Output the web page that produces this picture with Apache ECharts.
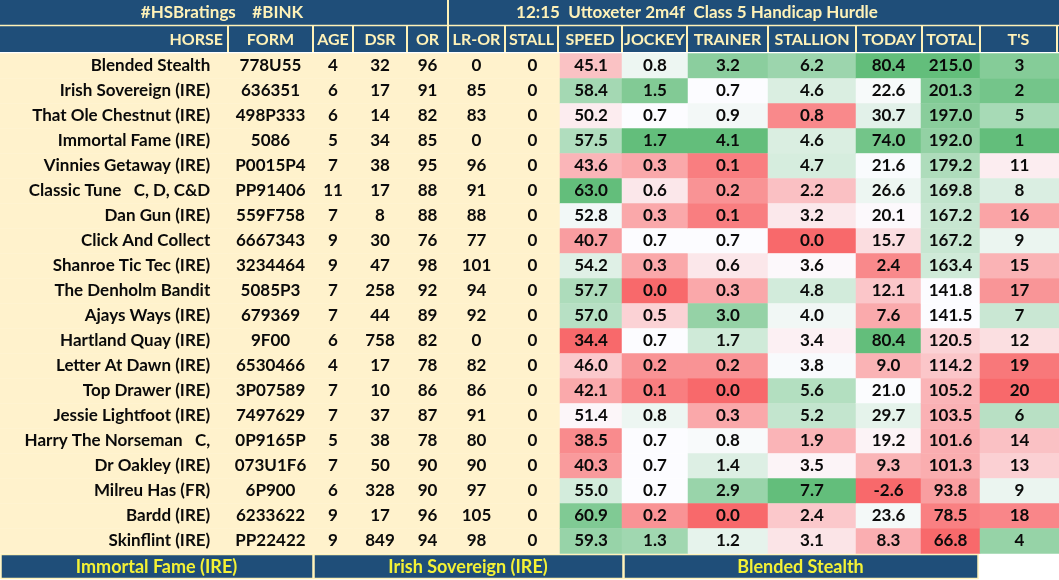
<!DOCTYPE html>
<html>
<head>
<meta charset="utf-8">
<title>HSB ratings - 12:15 Uttoxeter</title>
<script src="https://cdn.jsdelivr.net/npm/echarts@6/dist/echarts.min.js"></script>
<style>
  html, body { margin: 0; padding: 0; background: #fff; }
  #main { width: 1059px; height: 580px; }
</style>
</head>
<body>
<div id="main"></div>
<script>
// ---- data ----
var titleLeft = '#HSBratings    #BINK';
var titleRight = '12:15  Uttoxeter 2m4f  Class 5 Handicap Hurdle';
var columns = ['HORSE', 'FORM', 'AGE', 'DSR', 'OR', 'LR-OR', 'STALL', 'SPEED', 'JOCKEY', 'TRAINER', 'STALLION', 'TODAY', 'TOTAL', "T'S"];
var picks = ['Immortal Fame (IRE)', 'Irish Sovereign (IRE)', 'Blended Stealth'];

var horses = ['Blended Stealth', 'Irish Sovereign (IRE)', 'That Ole Chestnut (IRE)', 'Immortal Fame (IRE)',
  'Vinnies Getaway (IRE)', 'Classic Tune   C, D, C&D', 'Dan Gun (IRE)', 'Click And Collect',
  'Shanroe Tic Tec (IRE)', 'The Denholm Bandit', 'Ajays Ways (IRE)', 'Hartland Quay (IRE)',
  'Letter At Dawn (IRE)', 'Top Drawer (IRE)', 'Jessie Lightfoot (IRE)', 'Harry The Norseman   C,',
  'Dr Oakley (IRE)', 'Milreu Has (FR)', 'Bardd (IRE)', 'Skinflint (IRE)'];
var form = ['778U55', '636351', '498P333', '5086', 'P0015P4', 'PP91406', '559F758', '6667343', '3234464', '5085P3',
  '679369', '9F00', '6530466', '3P07589', '7497629', '0P9165P', '073U1F6', '6P900', '6233622', 'PP22422'];
var age = [4, 6, 6, 5, 7, 11, 7, 9, 9, 7, 7, 6, 4, 7, 7, 5, 7, 6, 9, 9];
var dsr = [32, 17, 14, 34, 38, 17, 8, 30, 47, 258, 44, 758, 17, 10, 37, 38, 50, 328, 17, 849];
var orating = [96, 91, 82, 85, 95, 88, 88, 76, 98, 92, 89, 82, 78, 86, 87, 78, 90, 90, 96, 94];
var lrOr = [0, 85, 83, 0, 96, 91, 88, 77, 101, 94, 92, 0, 82, 86, 91, 80, 90, 97, 105, 98];
var stall = [0, 0, 0, 0, 0, 0, 0, 0, 0, 0, 0, 0, 0, 0, 0, 0, 0, 0, 0, 0];
var speed = [45.1, 58.4, 50.2, 57.5, 43.6, 63.0, 52.8, 40.7, 54.2, 57.7, 57.0, 34.4, 46.0, 42.1, 51.4, 38.5, 40.3, 55.0, 60.9, 59.3];
var jockey = [0.8, 1.5, 0.7, 1.7, 0.3, 0.6, 0.3, 0.7, 0.3, 0.0, 0.5, 0.7, 0.2, 0.1, 0.8, 0.7, 0.7, 0.7, 0.2, 1.3];
var trainer = [3.2, 0.7, 0.9, 4.1, 0.1, 0.2, 0.1, 0.7, 0.6, 0.3, 3.0, 1.7, 0.2, 0.0, 0.3, 0.8, 1.4, 2.9, 0.0, 1.2];
var stallion = [6.2, 4.6, 0.8, 4.6, 4.7, 2.2, 3.2, 0.0, 3.6, 4.8, 4.0, 3.4, 3.8, 5.6, 5.2, 1.9, 3.5, 7.7, 2.4, 3.1];
var today = [80.4, 22.6, 30.7, 74.0, 21.6, 26.6, 20.1, 15.7, 2.4, 12.1, 7.6, 80.4, 9.0, 21.0, 29.7, 19.2, 9.3, -2.6, 23.6, 8.3];
var total = [215.0, 201.3, 197.0, 192.0, 179.2, 169.8, 167.2, 167.2, 163.4, 141.8, 141.5, 120.5, 114.2, 105.2, 103.5, 101.6, 101.3, 93.8, 78.5, 66.8];
var ts = [3, 2, 5, 1, 11, 8, 16, 9, 15, 17, 7, 12, 19, 20, 6, 14, 13, 9, 18, 4];

// ---- layout / style ----
var W = 1059;
var edges = [0, 228, 313, 353, 407, 448, 505, 560, 622, 688, 768, 856, 921, 980, 1059];
var bodyTop = 53.5, rowH = 25;
var NAVY = '#1F4E79', CREAM = '#FFF2CC', PALE = '#FFF2B8', YELLOW = '#F4F236';
var RED = [248, 105, 107], MID = [252, 252, 255], GREEN = [99, 190, 123];
var FONT = 'Lato, "Open Sans", sans-serif';

// excel style 3-colour scale: min / 50th percentile / max
function scaleColor(arr, reverse) {
  var s = arr.slice().sort(function (a, b) { return a - b; });
  var n = s.length, p = (n - 1) * 0.5, lo = Math.floor(p);
  var mid = s[lo] + (s[Math.min(lo + 1, n - 1)] - s[lo]) * (p - lo);
  var mn = s[0], mx = s[n - 1];
  var cLow = reverse ? GREEN : RED, cHigh = reverse ? RED : GREEN;
  return function (v) {
    var a, b, t;
    if (v <= mid) { a = cLow; b = MID; t = mid === mn ? 1 : (v - mn) / (mid - mn); }
    else { a = MID; b = cHigh; t = mx === mid ? 0 : (v - mid) / (mx - mid); }
    var c = a.map(function (x, k) { return Math.round(x + (b[k] - x) * t); });
    return 'rgb(' + c.join(',') + ')';
  };
}

function fix1(v) { return v.toFixed(1); }
function plain(v) { return String(v); }

var colSpec = [
  { vals: horses, fmt: plain, align: 'right' },
  { vals: form, fmt: plain },
  { vals: age, fmt: plain },
  { vals: dsr, fmt: plain },
  { vals: orating, fmt: plain },
  { vals: lrOr, fmt: plain },
  { vals: stall, fmt: plain },
  { vals: speed, fmt: fix1, heat: 1 },
  { vals: jockey, fmt: fix1, heat: 1 },
  { vals: trainer, fmt: fix1, heat: 1 },
  { vals: stallion, fmt: fix1, heat: 1 },
  { vals: today, fmt: fix1, heat: 1 },
  { vals: total, fmt: fix1, heat: 1 },
  { vals: ts, fmt: plain, heat: -1 }
];

var grids = [], xAxes = [], yAxes = [], series = [];
colSpec.forEach(function (c, i) {
  grids.push({ left: edges[i], width: edges[i + 1] - edges[i], top: bodyTop, height: rowH * horses.length });
  xAxes.push({ type: 'category', gridIndex: i, data: [columns[i]], show: false });
  yAxes.push({ type: 'category', gridIndex: i, data: horses, inverse: true, show: false });
  var colorOf = c.heat ? scaleColor(c.vals, c.heat < 0) : function () { return CREAM; };
  series.push({
    type: 'heatmap',
    xAxisIndex: i,
    yAxisIndex: i,
    silent: true,
    data: c.vals.map(function (v, r) {
      return { value: [0, r, typeof v === 'number' ? v : r], itemStyle: { color: colorOf(v) } };
    }),
    label: {
      show: true,
      position: c.align === 'right' ? 'insideRight' : 'inside',
      distance: 18,
      color: '#0a0a0a',
      fontFamily: FONT,
      fontWeight: 'bold',
      fontSize: 17,
      formatter: (function (spec) {
        return function (p) { return spec.fmt(spec.vals[p.dataIndex]); };
      })(c)
    },
    emphasis: { disabled: true }
  });
});

// title / header / footer bands
var g = [];
g.push({ type: 'rect', shape: { x: 0, y: 0, width: W, height: 52 }, style: { fill: NAVY }, z: 1 });
g.push({ type: 'line', shape: { x1: 0, y1: 25.5, x2: W, y2: 25.5 }, style: { stroke: PALE, lineWidth: 1.5 }, z: 2 });
g.push({ type: 'line', shape: { x1: 448, y1: 0, x2: 448, y2: 26 }, style: { stroke: PALE, lineWidth: 2 }, z: 2 });
g.push({ type: 'text', x: 222, y: 13, style: { text: titleLeft, fill: PALE, font: 'bold 17px ' + FONT, align: 'center', verticalAlign: 'middle' }, z: 3 });
g.push({ type: 'text', x: 697, y: 13, style: { text: titleRight, fill: PALE, font: 'bold 17px ' + FONT, align: 'center', verticalAlign: 'middle' }, z: 3 });
var hdrEdges = [0, 228, 313, 353, 407, 448, 505, 558, 622, 687, 768, 856, 922, 980, 1057];
hdrEdges.slice(1).forEach(function (x) {
  g.push({ type: 'line', shape: { x1: x, y1: 26, x2: x, y2: 52 }, style: { stroke: PALE, lineWidth: 2 }, z: 2 });
});
columns.forEach(function (name, i) {
  var right = i === 0;
  g.push({
    type: 'text', x: right ? hdrEdges[1] - 5 : (hdrEdges[i] + hdrEdges[i + 1]) / 2, y: 39.5,
    style: { text: name, fill: PALE, font: 'bold 16px ' + FONT, align: right ? 'right' : 'center', verticalAlign: 'middle' }, z: 3
  });
});
var footEdges = [0, 313, 623, 978];
picks.forEach(function (name, i) {
  var x0 = footEdges[i], x1 = footEdges[i + 1];
  g.push({ type: 'rect', shape: { x: x0 + 1, y: 554.5, width: x1 - x0 - 1, height: 24 }, style: { fill: NAVY, stroke: PALE, lineWidth: 1.5 }, z: 1 });
  g.push({ type: 'text', x: (x0 + x1) / 2, y: 567, style: { text: name, fill: YELLOW, font: 'bold 18px ' + FONT, align: 'center', verticalAlign: 'middle' }, z: 3 });
});

var chart = echarts.init(document.getElementById('main'), null, { renderer: 'canvas' });
chart.setOption({
  backgroundColor: '#fff',
  animation: false,
  grid: grids,
  xAxis: xAxes,
  yAxis: yAxes,
  series: series,
  graphic: { elements: g }
});
</script>
</body>
</html>
